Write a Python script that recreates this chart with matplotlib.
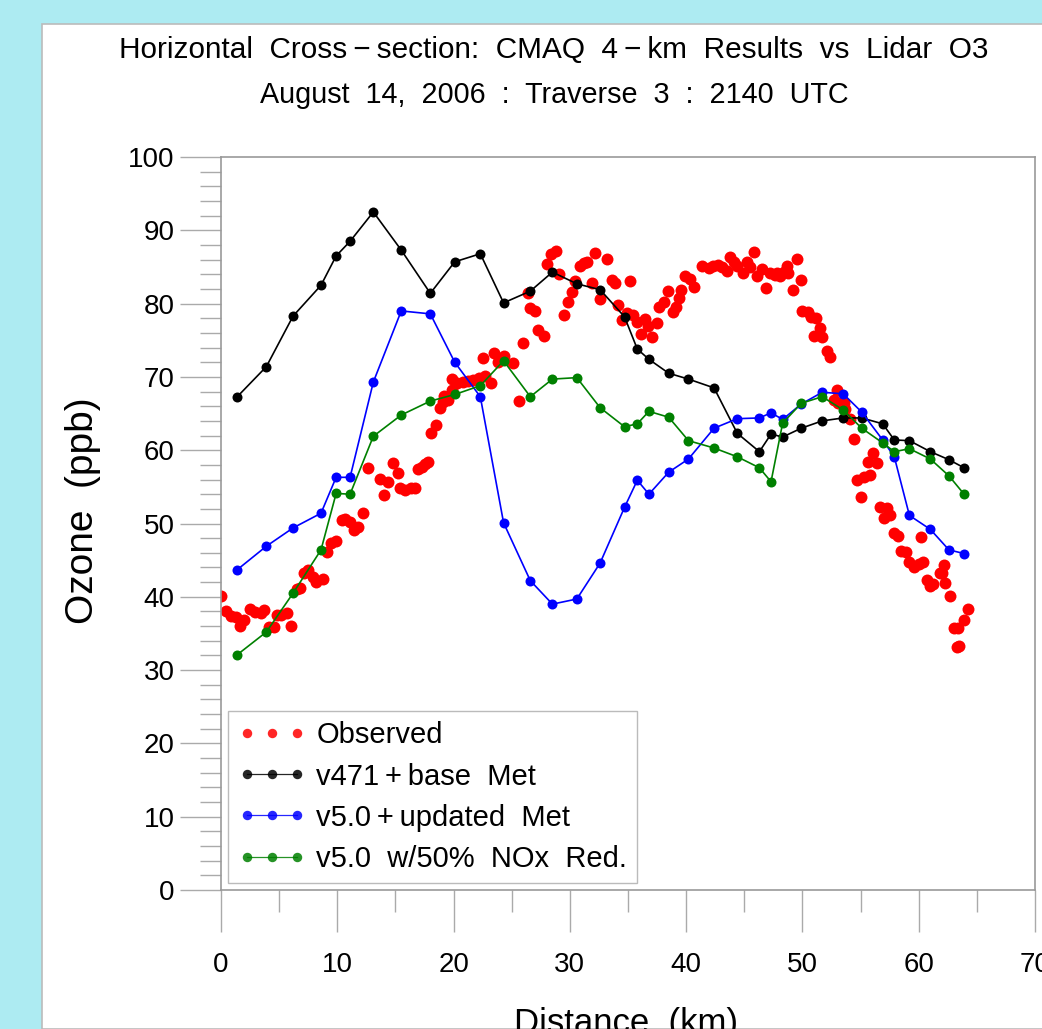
import matplotlib
matplotlib.use("Agg")
import matplotlib.pyplot as plt
from matplotlib.patches import Rectangle
from matplotlib.ticker import MultipleLocator

plt.rcParams['font.family'] = ['Liberation Sans', 'DejaVu Sans']

# ---------------- data ----------------
obs_x = [0.0, 0.4, 0.9, 1.3, 1.6, 2.0, 2.5, 2.9, 3.4, 3.7, 4.1, 4.6, 4.8, 5.2, 5.7, 6.0,
         6.5, 6.8, 7.1, 7.5, 7.9, 8.2, 8.8, 9.1, 9.5, 9.9, 10.4, 10.7, 11.1, 11.4, 11.8,
         12.2, 12.6, 13.7, 14.0, 14.4, 14.8, 15.2, 15.4, 15.8, 16.3, 16.7, 16.9, 17.3,
         17.5, 17.8, 18.1, 18.5, 18.8, 19.1, 19.2, 19.5, 19.9, 19.9, 20.3, 20.8, 21.2,
         21.7, 22.2, 22.7, 23.2, 22.5, 23.5, 23.8, 24.3, 25.1, 25.6, 26.0, 26.4, 26.6,
         27.0, 27.3, 27.8, 28.0, 28.4, 28.8, 29.1, 29.5, 29.8, 30.2, 30.4, 30.9, 31.2,
         31.5, 31.9, 32.2, 32.6, 33.2, 33.6, 33.9, 34.1, 34.5, 34.9, 35.2, 35.4, 35.8,
         36.1, 36.5, 36.7, 37.1, 37.5, 37.7, 38.1, 38.4, 38.9, 39.1, 39.4, 39.6, 39.9,
         40.3, 40.7, 41.4, 42.0, 42.3, 42.7, 43.1, 43.5, 43.8, 44.1, 44.4, 44.9, 45.2,
         45.5, 45.8, 46.1, 46.5, 46.9, 47.2, 47.6, 47.8, 48.1, 48.4, 48.7, 48.8, 49.2,
         49.5, 49.9, 50.0, 50.5, 50.7, 51.0, 51.2, 51.5, 51.7, 52.1, 52.4, 52.7, 53.0,
         53.1, 53.6, 53.7, 54.1, 54.4, 54.7, 55.0, 55.3, 55.6, 55.8, 56.1, 56.4, 56.7,
         57.0, 57.3, 57.5, 57.9, 58.2, 58.5, 58.9, 59.2, 59.6, 60.0, 60.2, 60.4, 60.7,
         61.0, 61.2, 61.8, 62.0, 62.2, 62.3, 62.7, 63.0, 63.3, 63.4, 63.5, 63.9, 64.2]
obs_y = [40.1, 38.1, 37.4, 37.2, 36.0, 36.8, 38.3, 37.9, 37.8, 38.2, 35.9, 35.9, 37.5, 37.5, 37.8, 36.0,
         41.1, 41.2, 43.3, 43.7, 42.7, 42.0, 42.4, 46.1, 47.3, 47.6, 50.5, 50.6, 50.2, 49.1, 49.5,
         51.4, 57.6, 56.1, 53.9, 55.7, 58.3, 56.9, 54.8, 54.6, 54.8, 54.8, 57.4, 57.7,
         58.1, 58.4, 62.3, 63.5, 65.7, 66.6, 67.4, 66.8, 68.2, 69.7, 69.2, 69.3, 69.4,
         69.6, 69.9, 70.1, 69.2, 72.6, 73.3, 72.0, 72.8, 71.9, 66.7, 74.6, 81.4, 79.4,
         79.0, 76.4, 75.6, 85.4, 86.8, 87.2, 84.0, 78.4, 80.2, 81.6, 83.1, 85.1, 85.5,
         85.7, 82.8, 86.9, 80.6, 86.1, 83.2, 82.8, 79.8, 77.8, 78.7, 83.1, 78.4, 77.5,
         75.9, 77.9, 76.9, 75.4, 77.4, 79.5, 80.2, 81.7, 78.9, 79.5, 80.8, 81.9, 83.8,
         83.4, 82.3, 85.1, 84.9, 85.1, 85.3, 85.0, 84.5, 86.4, 85.7, 85.1, 84.2, 85.7,
         85.0, 87.0, 83.8, 84.7, 82.1, 84.2, 83.9, 84.2, 83.7, 84.3, 85.1, 84.2, 81.9,
         86.1, 83.2, 79.0, 78.9, 78.2, 75.6, 78.0, 76.7, 75.4, 73.5, 72.7, 66.8, 68.2,
         66.4, 66.4, 65.6, 64.3, 61.5, 55.9, 53.6, 56.3, 58.4, 56.6, 59.6, 58.3, 52.3,
         50.7, 52.1, 51.2, 48.7, 48.3, 46.3, 46.1, 44.7, 44.1, 44.5, 48.2, 44.7, 42.3,
         41.5, 41.7, 43.2, 43.2, 44.3, 41.9, 40.1, 35.7, 33.1, 35.7, 33.3, 36.8, 38.3]

base_x = [1.4, 3.9, 6.2, 8.6, 9.9, 11.1, 13.1, 15.5, 18.0, 20.1, 22.3, 24.3, 26.6, 28.5,
          30.6, 32.6, 34.7, 35.8, 36.8, 38.5, 40.2, 42.4, 44.4, 46.3, 47.3, 48.3, 49.9,
          51.7, 53.5, 55.1, 56.9, 57.9, 59.2, 61.0, 62.6, 63.9]
base_y = [67.3, 71.4, 78.3, 82.5, 86.5, 88.5, 92.5, 87.3, 81.4, 85.7, 86.8, 80.1, 81.7, 84.3,
          82.7, 81.9, 78.2, 73.8, 72.4, 70.5, 69.7, 68.5, 62.3, 59.8, 62.2, 61.8, 63.0,
          64.0, 64.4, 64.4, 63.6, 61.4, 61.3, 59.8, 58.7, 57.6]

upd_x = base_x
upd_y = [43.7, 46.9, 49.4, 51.4, 56.3, 56.3, 69.3, 79.0, 78.6, 72.0, 67.3, 50.1, 42.2, 39.0,
         39.7, 44.6, 52.2, 55.9, 54.0, 57.0, 58.8, 63.0, 64.3, 64.4, 65.1, 64.2, 66.3,
         67.9, 67.7, 65.2, 61.4, 59.1, 51.1, 49.2, 46.4, 45.9]

nox_x = base_x
nox_y = [32.1, 35.2, 40.5, 46.4, 54.1, 54.0, 61.9, 64.8, 66.7, 67.6, 68.8, 72.2, 67.3, 69.7,
         69.9, 65.8, 63.2, 63.6, 65.3, 64.5, 61.3, 60.3, 59.1, 57.6, 55.7, 63.7, 66.4,
         67.3, 65.5, 63.0, 61.0, 59.8, 60.2, 58.8, 56.5, 54.0]

labels = ["Observed", "v471\u2009+\u2009base  Met", "v5.0\u2009+\u2009updated  Met",
          "v5.0  w/50%  NOx  Red."]
title1 = "Horizontal  Cross\u2009\u2212\u2009section:  CMAQ  4\u2009\u2212\u2009km  Results  vs  Lidar  O3"
title2 = "August  14,  2006  :  Traverse  3  :  2140  UTC"

# ---------------- figure ----------------
W, H = 1042, 1029
fig = plt.figure(figsize=(W / 100, H / 100), dpi=100, facecolor='#ADEBF2')
panel = Rectangle((42 / W, 0), 1.0, 1 - 24 / H, transform=fig.transFigure,
                  facecolor='white', edgecolor='#BBBBBB', linewidth=1.2, zorder=-10)
fig.patches.append(panel)

ax = fig.add_axes([221 / W, 1 - 890 / H, (1035 - 221) / W, (890 - 157) / H])
ax.set_zorder(1)
ax.set_xlim(0, 70)
ax.set_ylim(0, 100)

ms_obs = 8.6
ms_mod = 7.2
lw = 1.2
ax.plot(obs_x, obs_y, linestyle='none', marker='o', color='#FF0000', markersize=ms_obs,
        markeredgewidth=0, label=labels[0], zorder=2)
ax.plot(base_x, base_y, '-', marker='o', color='black', markersize=ms_mod, linewidth=lw,
        markeredgewidth=0, label=labels[1], zorder=3)
ax.plot(upd_x, upd_y, '-', marker='o', color='#0000FF', markersize=ms_mod, linewidth=lw,
        markeredgewidth=0, label=labels[2], zorder=4)
ax.plot(nox_x, nox_y, '-', marker='o', color='#008000', markersize=ms_mod, linewidth=lw,
        markeredgewidth=0, label=labels[3], zorder=5)

for s in ax.spines.values():
    s.set_color('#999999')
    s.set_linewidth(1.2)

ax.xaxis.set_major_locator(MultipleLocator(10))
ax.xaxis.set_minor_locator(MultipleLocator(5))
ax.yaxis.set_major_locator(MultipleLocator(10))
ax.yaxis.set_minor_locator(MultipleLocator(2))
ax.tick_params(axis='both', which='both', direction='out', color='#AAAAAA', width=1.0)
ax.tick_params(axis='y', which='major', length=29.5, pad=4, labelsize=20)
ax.tick_params(axis='y', which='minor', length=15)
ax.tick_params(axis='x', which='major', length=30, pad=15, labelsize=20)
ax.tick_params(axis='x', which='minor', length=15.5)
ax.set_xticks(range(0, 71, 10))
ax.set_xticklabels([str(v) for v in range(0, 71, 10)])

leg = ax.legend(loc='lower left', bbox_to_anchor=(7 / 814, 7 / 733), borderaxespad=0,
                fontsize=21, numpoints=3, handlelength=2.3, handletextpad=0.38,
                labelspacing=0.45, borderpad=0.35, frameon=True, fancybox=False)
leg.get_frame().set_edgecolor('#AAAAAA')
leg.get_frame().set_linewidth(1.0)
for h in leg.get_lines():
    h.set_markersize(6.8)
    h.set_linewidth(0.9)
    h.set_alpha(0.85)

fig.text(554 / W, 1 - 50 / H, title1, ha='center', va='center', fontsize=21.4)
fig.text(554 / W, 1 - 95 / H, title2, ha='center', va='center', fontsize=20.7)
fig.text(83 / W, 1 - 511 / H, "Ozone  (ppb)", rotation=90, ha='center', va='center',
         fontsize=28)
fig.text(626 / W, 1 - 1033 / H, "Distance  (km)", ha='center', va='baseline', fontsize=25)

fig.savefig("out.png", dpi=100, facecolor=fig.get_facecolor())
